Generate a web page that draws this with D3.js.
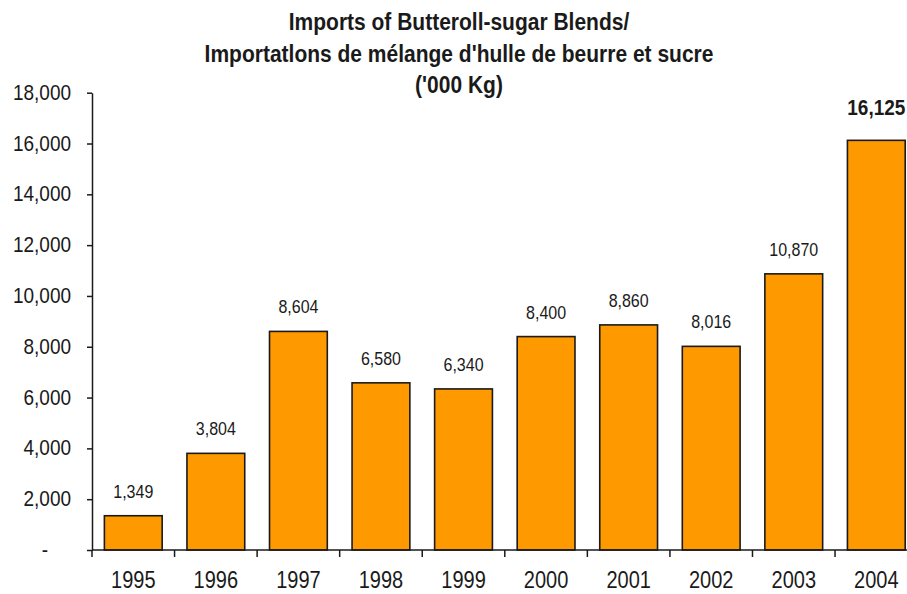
<!DOCTYPE html>
<html>
<head>
<meta charset="utf-8">
<script src="https://cdn.jsdelivr.net/npm/d3@7"></script>
<style>
  html, body { margin: 0; padding: 0; background: #fff; }
  text { font-family: "Liberation Sans", Arial, sans-serif; fill: #1a1a1a; }
</style>
</head>
<body>
<svg id="chart" width="907" height="594"></svg>
<script>
const years = ["1995", "1996", "1997", "1998", "1999", "2000", "2001", "2002", "2003", "2004"];
const values = [1349, 3804, 8604, 6580, 6340, 8400, 8860, 8016, 10870, 16125];
const yTicks = [0, 2000, 4000, 6000, 8000, 10000, 12000, 14000, 16000, 18000];
const titleLines = [
  "Imports of Butteroll-sugar Blends/",
  "Importatlons de mélange d'hulle de beurre et sucre",
  "('000 Kg)"
];
const highlightYear = "2004";

(function () {
const svg = d3.select("#chart");
const W = 907, H = 594;
svg.append("rect").attr("width", W).attr("height", H).attr("fill", "#fff");

const plotLeft = 92, plotBottom = 550, plotTop = 92.7;
const step = 82.56;
const x = d3.scaleBand().domain(years)
  .range([plotLeft, plotLeft + step * years.length])
  .paddingInner(0.3).paddingOuter(0.15);
const y = d3.scaleLinear().domain([0, 18000]).range([plotBottom, plotTop]);

function stretchedText(g, tx, ty, str, opts) {
  const s = opts.sy || 1.18;
  return g.append("text")
    .attr("transform", `translate(${tx},${ty}) scale(1,${s})`)
    .attr("text-anchor", opts.anchor || "middle")
    .attr("font-size", opts.size)
    .attr("font-weight", opts.weight || "normal")
    .text(str);
}

// Title
const tg = svg.append("g");
const titleY = [30, 62, 93];
titleLines.forEach((t, i) => {
  stretchedText(tg, 459, titleY[i], t, { size: 21, weight: "bold", sy: 1.18 });
});

// Bars
svg.append("g").selectAll("rect").data(years).join("rect")
  .attr("x", d => x(d))
  .attr("y", (d, i) => y(values[i]))
  .attr("width", x.bandwidth())
  .attr("height", (d, i) => y(0) - y(values[i]))
  .attr("fill", "#FF9900")
  .attr("stroke", "#1a1a1a")
  .attr("stroke-width", 1.6);

// Value labels
const lg = svg.append("g");
years.forEach((d, i) => {
  const cx = x(d) + x.bandwidth() / 2;
  const isHi = d === highlightYear;
  stretchedText(lg, cx, y(values[i]) - (isHi ? 25 : 18), d3.format(",")(values[i]),
    isHi ? { size: 19, weight: "bold", sy: 1.12 } : { size: 16, sy: 1.13 });
});

// Y axis
const yAxis = d3.axisLeft(y).tickValues(yTicks).tickSize(5).tickSizeOuter(0)
  .tickFormat(d => d === 0 ? "-" : d3.format(",")(d));
const yg = svg.append("g").attr("transform", `translate(${plotLeft},0)`).call(yAxis);
yg.select(".domain").attr("stroke", "#1a1a1a").attr("stroke-width", 1.5);
yg.selectAll(".tick line").attr("stroke", "#1a1a1a").attr("stroke-width", 1.5);
yg.selectAll(".tick text")
  .attr("x", d => d === 0 ? -47 : -21)
  .attr("text-anchor", d => d === 0 ? "middle" : "end")
  .attr("dy", null)
  .attr("y", 5.5)
  .attr("transform", "scale(1,1.18)")
  .attr("font-size", 19)
  .attr("font-family", "Liberation Sans, Arial, sans-serif")
  .attr("fill", "#1a1a1a");

// X axis line
const xg = svg.append("g");
xg.append("line")
  .attr("x1", plotLeft).attr("x2", x.range()[1])
  .attr("y1", plotBottom).attr("y2", plotBottom)
  .attr("stroke", "#1a1a1a").attr("stroke-width", 1.5);
// boundary ticks
const bounds = years.map(d => x(d) - x.step() * x.paddingInner() / 2);
bounds[0] = x.range()[0];
xg.selectAll("line.tk").data(bounds).join("line").attr("class", "tk")
  .attr("x1", d => d).attr("x2", d => d)
  .attr("y1", plotBottom).attr("y2", plotBottom + 7)
  .attr("stroke", "#1a1a1a").attr("stroke-width", 1.5);
// x labels
years.forEach(d => {
  stretchedText(xg, x(d) + x.bandwidth() / 2, 588, d, { size: 20, sy: 1.15 });
});
})();
</script>
</body>
</html>
